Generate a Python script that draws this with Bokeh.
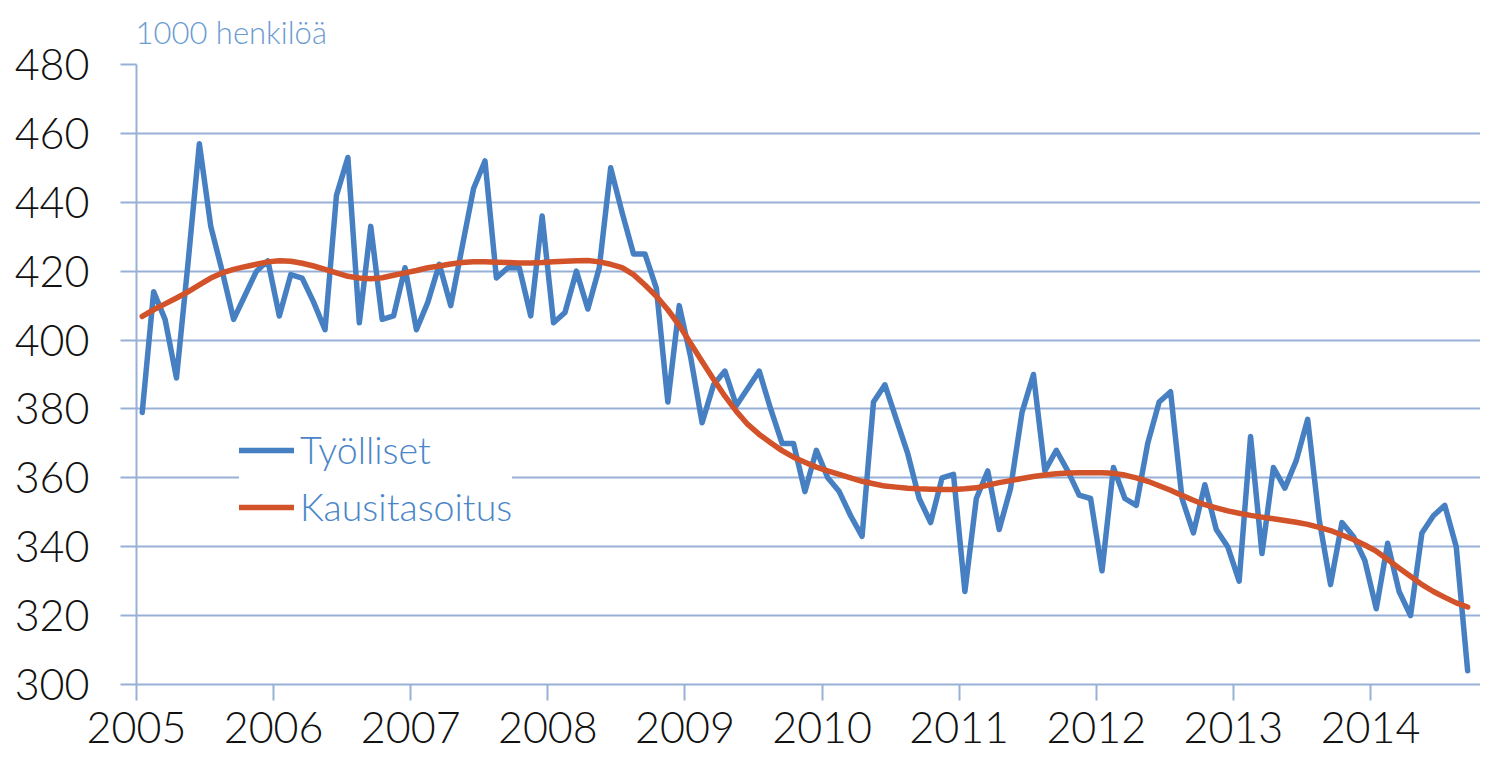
from bokeh.plotting import figure
from bokeh.models import ColumnDataSource, FixedTicker, Legend, LegendItem, Range1d, Title
from bokeh.embed import file_html
from bokeh.resources import INLINE

years = [2005, 2006, 2007, 2008, 2009, 2010, 2011, 2012, 2013, 2014]
year_labels = ["2005", "2006", "2007", "2008", "2009", "2010", "2011", "2012", "2013", "2014"]
y_ticks = [300, 320, 340, 360, 380, 400, 420, 440, 460, 480]

# Monthly values Jan 2005 - Sep 2014 (1000 persons)
tyolliset = [
    379, 414, 406, 389, 422, 457, 433, 420, 406, 413, 420, 423,
    407, 419, 418, 411, 403, 442, 453, 405, 433, 406, 407, 421,
    403, 411, 422, 410, 427, 444, 452, 418, 421, 421, 407, 436,
    405, 408, 420, 409, 421, 450, 437, 425, 425, 415, 382, 410,
    395, 376, 387, 391, 381, 386, 391, 380, 370, 370, 356, 368,
    360, 356, 349, 343, 382, 387, 377, 367, 354, 347, 360, 361,
    327, 354, 362, 345, 357, 379, 390, 362, 368, 362, 355, 354,
    333, 363, 354, 352, 370, 382, 385, 354, 344, 358, 345, 340,
    330, 372, 338, 363, 357, 365, 377, 348, 329, 347, 343, 336,
    322, 341, 327, 320, 344, 349, 352, 340, 304,
]
kausitasoitus = [
    406.9, 408.8, 410.5, 412.2, 414.0, 416.0, 418.0, 419.5, 420.5, 421.3, 422.0, 422.7,
    423.0, 422.9, 422.3, 421.5, 420.5, 419.5, 418.5, 418.0, 417.8, 418.1, 418.8, 419.5,
    420.2, 421.0, 421.5, 422.1, 422.5, 422.7, 422.7, 422.6, 422.5, 422.4, 422.4, 422.5,
    422.7, 422.9, 423.0, 423.1, 422.7, 422.0, 421.0, 419.0, 416.0, 412.7, 408.8, 404.3,
    399.0, 393.8, 388.6, 383.7, 379.3, 375.5, 372.6, 370.2, 367.9, 366.0, 364.5, 363.1,
    362.0, 361.0, 360.0, 359.0, 358.3, 357.6, 357.3, 357.0, 356.8, 356.7, 356.6, 356.6,
    356.8, 357.1, 357.9, 358.6, 359.2, 359.8, 360.4, 360.8, 361.2, 361.4, 361.5, 361.5,
    361.5, 361.3, 360.8, 360.0, 359.0, 357.7, 356.4, 354.9, 353.5, 352.2, 351.3, 350.4,
    349.7, 349.1, 348.6, 348.1, 347.6, 347.1, 346.5, 345.6, 344.7, 343.4, 342.1, 340.5,
    338.7, 336.3, 333.8, 331.4, 329.0, 327.0, 325.3, 323.7, 322.5,
]

# month positions (middle of each month)
x = [2005 + (i + 0.5) / 12 for i in range(len(tyolliset))]
src = ColumnDataSource(dict(x=x, t=tyolliset, k=kausitasoitus))

BLUE = "#4680c2"
ORANGE = "#d2522a"
GRID = "#98b0d6"
FONT = "Lato Light"

p = figure(width=1480, height=752, output_backend="svg", toolbar_location=None,
           x_range=Range1d(2005, 2014.802), y_range=Range1d(300, 480),
           min_border_left=136, min_border_right=0, min_border_top=63, min_border_bottom=68)
p.outline_line_color = None
p.background_fill_color = "white"
p.border_fill_color = "white"

r1 = p.line("x", "t", source=src, line_color=BLUE, line_width=5.5, line_join="round", line_cap="round")
r2 = p.line("x", "k", source=src, line_color=ORANGE, line_width=5.5, line_join="round", line_cap="round")

unit_title = Title(text="1000 henkilöä", align="left", vertical_align="top",
                   text_font=FONT, text_font_size="31px",
                   text_font_style="normal", text_color="#6a9bd1", standoff=24, offset=-1)
p.add_layout(unit_title, "above")

p.xgrid.visible = False
p.ygrid.ticker = FixedTicker(ticks=y_ticks)
p.ygrid.grid_line_color = GRID
p.ygrid.grid_line_width = 2

for ax in (p.xaxis[0], p.yaxis[0]):
    ax.axis_line_color = GRID
    ax.axis_line_width = 2
    ax.major_tick_line_color = GRID
    ax.major_tick_line_width = 2
    ax.major_tick_out = 16
    ax.major_tick_in = 0
    ax.minor_tick_line_color = None
    ax.major_label_text_font = FONT
    ax.major_label_text_font_size = "43px"
    ax.major_label_text_color = "#111111"

p.yaxis.ticker = FixedTicker(ticks=y_ticks)
p.yaxis.major_label_standoff = 31
p.xaxis.ticker = FixedTicker(ticks=years)
p.xaxis.major_label_overrides = {yr: lab for yr, lab in zip(years, year_labels)}
p.xaxis.major_label_standoff = 11

legend = Legend(items=[LegendItem(label="Työlliset", renderers=[r1]),
                       LegendItem(label="Kausitasoitus", renderers=[r2])],
                location=(103, 155), orientation="vertical",
                label_text_font=FONT, label_text_font_size="37.5px", label_text_color="#4a86c8",
                glyph_width=55, glyph_height=38, label_height=38, spacing=12,
                padding=15, margin=0, label_standoff=6,
                border_line_color=None, background_fill_color="white", background_fill_alpha=1.0)
p.add_layout(legend, "center")

open("out.html", "w").write(file_html(p, INLINE))
